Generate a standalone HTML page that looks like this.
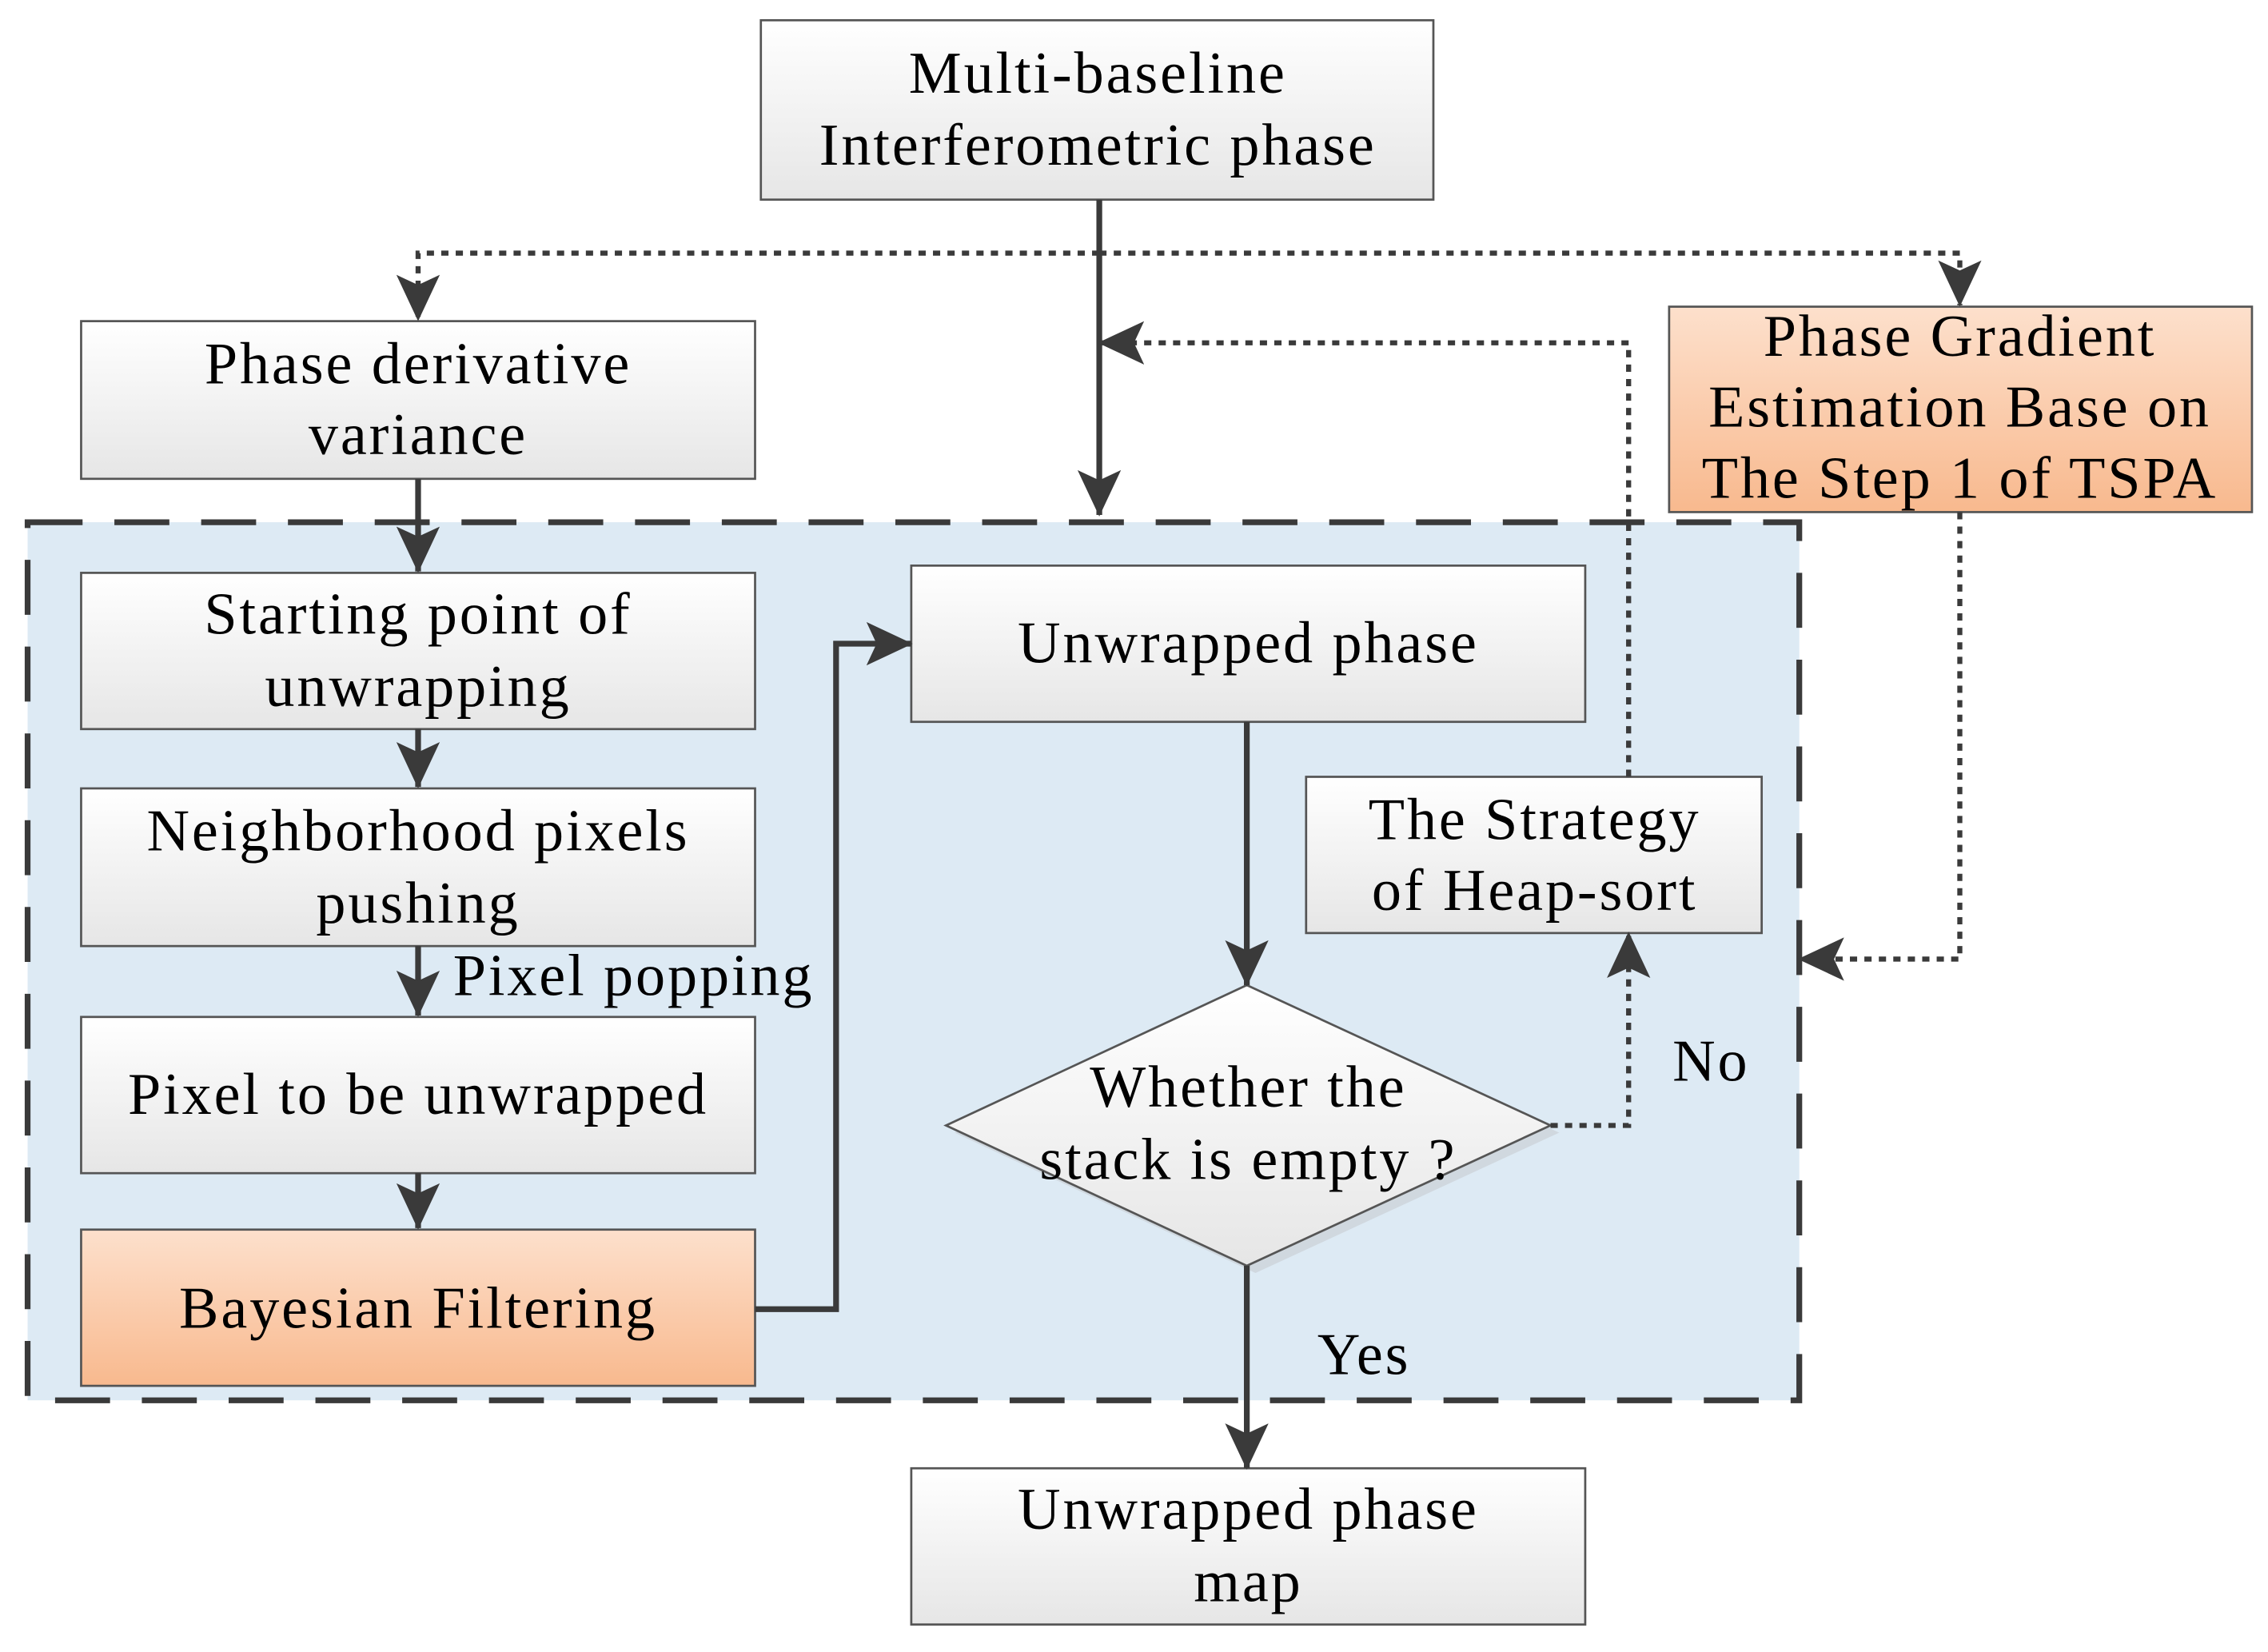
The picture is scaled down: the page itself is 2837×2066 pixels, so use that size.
<!DOCTYPE html>
<html><head><style>html,body{margin:0;padding:0;background:#fff}svg{display:block}</style></head>
<body>
<svg width="2837" height="2066" viewBox="0 0 1568 1142" xmlns="http://www.w3.org/2000/svg" font-family="'Liberation Serif', serif" font-size="41" letter-spacing="1.6" text-anchor="middle">
<defs>
<linearGradient id="g" x1="0" y1="0" x2="0" y2="1"><stop offset="0" stop-color="#ffffff"/><stop offset="1" stop-color="#e6e6e6"/></linearGradient>
<linearGradient id="o" x1="0" y1="0" x2="0" y2="1"><stop offset="0" stop-color="#fde0cc"/><stop offset="1" stop-color="#f8b98e"/></linearGradient>
<marker id="a" markerWidth="32" markerHeight="30" refX="31" refY="15" orient="auto" markerUnits="userSpaceOnUse" viewBox="0 0 32 30"><path d="M0,0 L32,15 L0,30 L7,15 z" fill="#3a3a3a"/></marker>
</defs>
<style>.l{stroke:#3a3a3a;stroke-width:4;fill:none}.d{stroke:#3a3a3a;stroke-width:3.5;fill:none;stroke-dasharray:5 5}.b{stroke:#555;stroke-width:1.5}</style>
<rect x="19" y="361" width="1225" height="607" fill="#ddeaf4" stroke="#3a3a3a" stroke-width="4" stroke-dasharray="38 22"/>
<rect class="b" x="526" y="14" width="465" height="124" fill="url(#g)"/>
<text x="759" y="64">Multi-baseline</text><text x="759" y="114">Interferometric phase</text>
<rect class="b" x="56" y="222" width="466" height="109" fill="url(#g)"/>
<text x="289" y="265">Phase derivative</text><text x="289" y="314">variance</text>
<rect class="b" x="1154" y="212" width="403" height="142" fill="url(#o)"/>
<text x="1355" y="246">Phase Gradient</text><text x="1355" y="295">Estimation Base on</text><text x="1355" y="344">The Step 1 of TSPA</text>
<rect class="b" x="56" y="396" width="466" height="108" fill="url(#g)"/>
<text x="289" y="438">Starting point of</text><text x="289" y="488">unwrapping</text>
<rect class="b" x="56" y="545" width="466" height="109" fill="url(#g)"/>
<text x="289" y="588">Neighborhood pixels</text><text x="289" y="638">pushing</text>
<text x="438" y="688">Pixel popping</text>
<rect class="b" x="56" y="703" width="466" height="108" fill="url(#g)"/>
<text x="289" y="770">Pixel to be unwrapped</text>
<rect class="b" x="56" y="850" width="466" height="108" fill="url(#o)"/>
<text x="289" y="918">Bayesian Filtering</text>
<rect class="b" x="630" y="391" width="466" height="108" fill="url(#g)"/>
<text x="863" y="458">Unwrapped phase</text>
<rect class="b" x="903" y="537" width="315" height="108" fill="url(#g)"/>
<text x="1061" y="580">The Strategy</text><text x="1061" y="629">of Heap-sort</text>
<polygon points="868,686 1078,783 868,880 660,783" fill="#c8ccd0" opacity="0.6"/>
<polygon class="b" points="862,681 1072,778 862,875 654,778" fill="url(#g)"/>
<text x="863" y="765">Whether the</text><text x="863" y="815">stack is empty ?</text>
<rect class="b" x="630" y="1015" width="466" height="108" fill="url(#g)"/>
<text x="863" y="1057">Unwrapped phase</text><text x="863" y="1107">map</text>
<text x="1183" y="747">No</text><text x="943" y="950">Yes</text>
<path class="d" d="M760,175 H289 V221" marker-end="url(#a)"/>
<path class="d" d="M760,175 H1355 V211" marker-end="url(#a)"/>
<path class="l" d="M760,138 V356" marker-end="url(#a)"/>
<path class="l" d="M289,331 V395" marker-end="url(#a)"/>
<path class="l" d="M289,504 V544" marker-end="url(#a)"/>
<path class="l" d="M289,654 V702" marker-end="url(#a)"/>
<path class="l" d="M289,811 V849" marker-end="url(#a)"/>
<path class="l" d="M522,905 H578 V445 H630" marker-end="url(#a)"/>
<path class="l" d="M862,499 V681" marker-end="url(#a)"/>
<path class="l" d="M862,875 V1015" marker-end="url(#a)"/>
<path class="d" d="M1072,778 H1126 V645" marker-end="url(#a)"/>
<path class="d" d="M1126,537 V237 H760" marker-end="url(#a)"/>
<path class="d" d="M1355,354 V663 H1244" marker-end="url(#a)"/>
</svg>
</body></html>
